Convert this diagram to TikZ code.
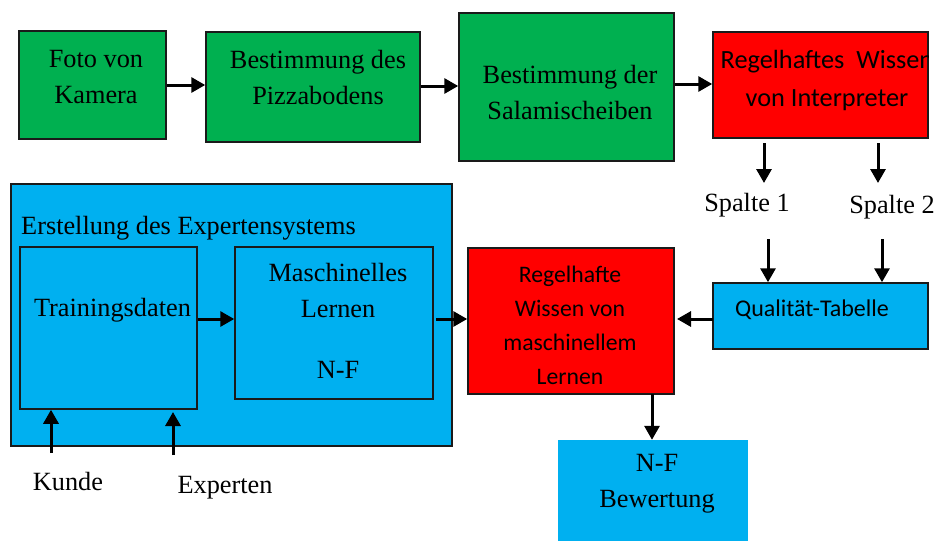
\documentclass[tikz,border=0pt]{standalone}
\usepackage{fontspec}
\setmainfont{Liberation Serif}
\newfontfamily\calibri{Carlito}
\usetikzlibrary{arrows.meta}
\definecolor{boxgreen}{HTML}{00B050}
\definecolor{boxred}{HTML}{FF0000}
\definecolor{boxblue}{HTML}{00B0F0}
\definecolor{edge}{HTML}{1A1A1A}
\tikzset{
  box/.style={rectangle, draw=edge, line width=1.5pt, inner sep=0pt},
  greenbox/.style={box, fill=boxgreen},
  redbox/.style={box, fill=boxred},
  bluebox/.style={box, fill=boxblue},
  serif/.style={inner sep=0pt, align=center, font=\fontsize{26.3}{36}\selectfont},
  sans/.style={inner sep=0pt, align=center, font=\calibri\fontsize{26.3}{38}\selectfont},
  sanssmall/.style={inner sep=0pt, align=center, font=\calibri\fontsize{23.7}{34}\selectfont},
  arr/.style={line width=3pt, -{Triangle[length=14pt,width=15pt]}}
}
\begin{document}
\begin{tikzpicture}[x=1pt, y=-1pt]
\useasboundingbox (0,0) rectangle (938,541);
\begin{scope}
\clip (0,0) rectangle (938,541);

% top row: image processing chain
\node[greenbox, minimum width=147pt, minimum height=108pt] (foto) at (92.5,85) {};
\node[serif] (fototxt) at (96,77) {Foto von\\Kamera};
\node[greenbox, minimum width=214pt, minimum height=110pt] (boden) at (313,87) {};
\node[serif] (bodentxt) at (318,77.5) {Bestimmung des\\Pizzabodens};
\node[greenbox, minimum width=215pt, minimum height=148pt] (salami) at (566.5,87) {};
\node[serif] (salamitxt) at (570,93) {Bestimmung der\\Salamischeiben};
\node[redbox, minimum width=215pt, minimum height=106pt] (interp) at (820.5,85) {};
\begin{scope}
  \clip ([xshift=0.75pt,yshift=-0.75pt]interp.south west) rectangle ([xshift=-0.75pt,yshift=0.75pt]interp.north east);
  \node[sans] (interptxt) at (827,80) {Regelhaftes\ \ Wissen\\von Interpreter};
\end{scope}

\draw[arr] (foto.east) -- (foto.east -| boden.west);
\draw[arr] (boden.east |- 0,86) -- (salami.west |- 0,86);
\draw[arr] (salami.east |- 0,84) -- (interp.west |- 0,84);

% columns from the interpreter to the quality table
\coordinate (s1a) at (764,143);
\coordinate (s1b) at (764,183);
\coordinate (s2a) at (878,143);
\coordinate (s2b) at (878,183);
\draw[arr] (s1a) -- (s1b);
\draw[arr] (s2a) -- (s2b);
\node[serif] (spalte1) at (747,205) {Spalte 1};
\node[serif] (spalte2) at (892,207) {Spalte 2};

\node[bluebox, minimum width=215pt, minimum height=66pt] (qual) at (820.5,316) {};
\node[sans, font=\calibri\fontsize{24}{30}\selectfont] (qualtxt) at (812,310) {Qualität-Tabelle};
\coordinate (s1c) at (768,239);
\coordinate (s2c) at (882,239);
\draw[arr] (s1c) -- (s1c |- qual.north);
\draw[arr] (s2c) -- (s2c |- qual.north);

% expert system construction
\node[bluebox, minimum width=441pt, minimum height=262pt] (expert) at (231.5,315) {};
\node[serif, anchor=west] (experttxt) at (21,228) {Erstellung des Expertensystems};
\node[bluebox, minimum width=177pt, minimum height=162pt] (train) at (108.5,328) {};
\node[serif] (traintxt) at (112.5,310) {Trainingsdaten};
\node[bluebox, minimum width=198pt, minimum height=152pt] (ml) at (334,323) {};
\node[serif] (mltxt) at (338,291) {Maschinelles\\Lernen};
\node[serif] (mlnf) at (338,370) {N-F};

\draw[arr] (train.east |- 0,319) -- (ml.west |- 0,319);

% machine-learned rules
\node[redbox, minimum width=206pt, minimum height=146pt] (mlw) at (571,321) {};
\node[sanssmall] (mlwtxt) at (570,325.5) {Regelhafte\\Wissen von\\maschinellem\\Lernen};
\coordinate (mlout) at (436,319);
\draw[arr] (mlout) -- (mlw.west |- mlout);
\coordinate (qualout) at (713,319);
\draw[arr] (qualout) -- (677,319);

% inputs
\coordinate (kin) at (51,453);
\coordinate (ein) at (173,455);
\draw[arr] (kin) -- (kin |- train.south);
\draw[arr] (ein) -- (173,412);
\node[serif] (kunde) at (68,481) {Kunde};
\node[serif] (experten) at (225,488) {Experten};

% evaluation
\node[rectangle, fill=boxblue, minimum width=190pt, minimum height=106pt, inner sep=0pt] (nfb) at (653,493) {};
\node[serif] (nfbtxt) at (657,484) {N-F\\Bewertung};
\coordinate (mlwout) at (652,394);
\draw[arr] (mlwout) -- (mlwout |- nfb.north);
\end{scope}
\end{tikzpicture}
\end{document}
